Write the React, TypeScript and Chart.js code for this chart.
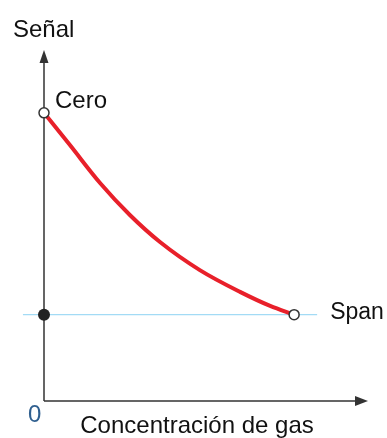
import React, { useEffect, useRef } from "react";
import { Chart, registerables } from "chart.js";

Chart.register(...registerables);

// Data (x: gas concentration 0..100, y: signal 0..100)
const curveX = [0, 8.0, 17.3, 26.5, 35.8, 48.1, 60.5, 69.8, 77.2];
const curveY = [82.1, 72.9, 62.1, 53.0, 45.3, 37.3, 31.1, 27.1, 24.6];
const spanLevel = 24.6;
const spanLineX = [-6.5, 84.3];
const zeroPoint = { x: 0, y: 82.1 };
const spanPoint = { x: 77.2, y: 24.6 };
const originDot = { x: 0, y: 24.6 };

const yTitle = "Señal";
const xTitle = "Concentración de gas";
const zeroLabel = "Cero";
const spanLabel = "Span";
const originLabel = "0";

const FONT = "24px 'Liberation Sans', Arial, sans-serif";

const axesPlugin = {
  id: "axesPlugin",
  beforeDatasetsDraw(chart: any) {
    const { ctx } = chart;
    const xs = chart.scales.x;
    const ys = chart.scales.y;
    const x0 = xs.getPixelForValue(0);
    const y0 = ys.getPixelForValue(0);
    const xEnd = xs.getPixelForValue(100);
    const yEnd = ys.getPixelForValue(100);
    ctx.save();
    ctx.strokeStyle = "#333";
    ctx.fillStyle = "#333";
    ctx.lineWidth = 1.5;
    ctx.beginPath();
    ctx.moveTo(x0, y0);
    ctx.lineTo(x0, yEnd + 10);
    ctx.moveTo(x0, y0);
    ctx.lineTo(xEnd - 10, y0);
    ctx.stroke();
    // arrow heads
    ctx.beginPath();
    ctx.moveTo(x0, yEnd);
    ctx.lineTo(x0 - 4.5, yEnd + 13);
    ctx.lineTo(x0 + 4.5, yEnd + 13);
    ctx.closePath();
    ctx.fill();
    ctx.beginPath();
    ctx.moveTo(xEnd, y0);
    ctx.lineTo(xEnd - 13, y0 - 5);
    ctx.lineTo(xEnd - 13, y0 + 5);
    ctx.closePath();
    ctx.fill();
    ctx.restore();
  },
  afterDraw(chart: any) {
    const { ctx } = chart;
    const xs = chart.scales.x;
    const ys = chart.scales.y;
    const x0 = xs.getPixelForValue(0);
    const y0 = ys.getPixelForValue(0);
    ctx.save();
    ctx.font = FONT;
    ctx.fillStyle = "#111";
    ctx.textBaseline = "alphabetic";
    ctx.textAlign = "left";
    ctx.fillText(yTitle, x0 - 31, 37);
    ctx.fillText(zeroLabel, x0 + 11, ys.getPixelForValue(zeroPoint.y) - 5);
    ctx.font = "23px 'Liberation Sans', Arial, sans-serif";
    ctx.fillText(spanLabel, xs.getPixelForValue(spanPoint.x) + 36, ys.getPixelForValue(spanLevel) + 4);
    ctx.font = FONT;
    ctx.textAlign = "center";
    ctx.fillText(xTitle, 197, y0 + 32);
    ctx.fillStyle = "#2f5f8f";
    ctx.textAlign = "left";
    ctx.fillText(originLabel, x0 - 16, y0 + 21);
    ctx.restore();
  },
};

export default function App() {
  const ref = useRef<HTMLCanvasElement>(null);
  useEffect(() => {
    if (!ref.current) return;
    const chart = new Chart(ref.current, {
      type: "scatter",
      data: {
        datasets: [
          {
            data: [zeroPoint, spanPoint],
            pointRadius: 5,
            pointBackgroundColor: "#fff",
            pointBorderColor: "#333",
            pointBorderWidth: 1.5,
            showLine: false,
            clip: false,
          } as any,
          {
            data: [originDot],
            pointRadius: 6,
            pointBackgroundColor: "#222",
            pointBorderColor: "#222",
            pointBorderWidth: 0,
            showLine: false,
            clip: false,
          } as any,
          {
            data: curveX.map((x, i) => ({ x, y: curveY[i] })),
            showLine: true,
            borderColor: "#e8202a",
            borderWidth: 4,
            pointRadius: 0,
            tension: 0.4,
            cubicInterpolationMode: "monotone",
            borderCapStyle: "round",
            clip: false,
          } as any,
          {
            data: spanLineX.map((x) => ({ x, y: spanLevel })),
            showLine: true,
            borderColor: "#a3dbf5",
            borderWidth: 1.2,
            pointRadius: 0,
            clip: false,
          } as any,
        ],
      },
      options: {
        animation: false,
        responsive: false,
        events: [],
        layout: { padding: { left: 44, right: 19, top: 50, bottom: 37 } },
        plugins: { legend: { display: false }, tooltip: { enabled: false } },
        scales: {
          x: { type: "linear", min: 0, max: 100, display: false },
          y: { type: "linear", min: 0, max: 100, display: false },
        },
      },
      plugins: [axesPlugin],
    });
    return () => chart.destroy();
  }, []);
  return (
    <div style={{ position: "absolute", left: 0, top: 0, width: 387, height: 438, background: "#fff" }}>
      <canvas ref={ref} width={387} height={438} style={{ display: "block" }} />
    </div>
  );
}
